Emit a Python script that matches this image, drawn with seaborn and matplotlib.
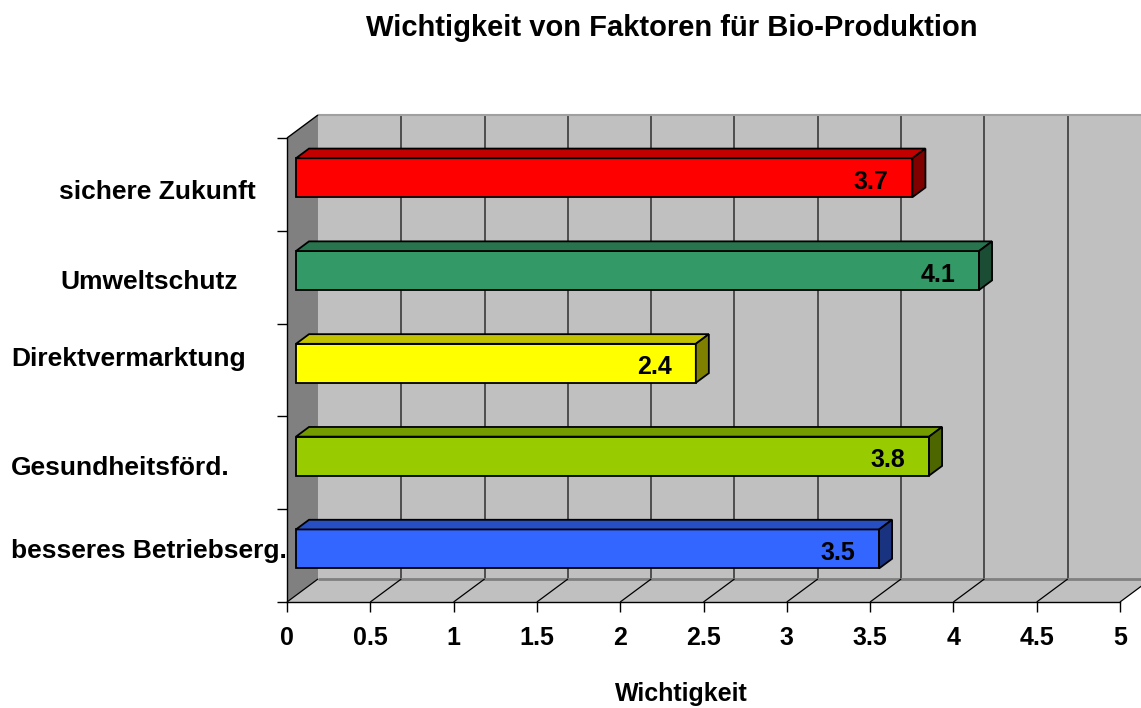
import numpy as np
import matplotlib.pyplot as plt
import matplotlib.colors as mcolors
from matplotlib.patches import Polygon
import seaborn as sns

# data
categories = ["sichere Zukunft", "Umweltschutz", "Direktvermarktung",
              "Gesundheitsförd.", "besseres Betriebserg."]
values = [3.7, 4.1, 2.4, 3.8, 3.5]
bar_colors = ["#FF0000", "#339966", "#FFFF00", "#99CC00", "#3366FF"]
x_ticks = [0, 0.5, 1, 1.5, 2, 2.5, 3, 3.5, 4, 4.5, 5]
x_tick_labels = ["0", "0.5", "1", "1.5", "2", "2.5", "3", "3.5", "4", "4.5", "5"]
title = "Wichtigkeit von Faktoren für Bio-Produktion"
x_label = "Wichtigkeit"

# layout: pixel positions (left x, centre y) of the category labels
label_pos = [(59, 192), (60, 282), (11, 359), (11, 468), (11, 551)]

sns.set_style("white")
plt.rcParams["font.family"] = ["Liberation Sans", "DejaVu Sans"]
plt.rcParams["font.weight"] = "bold"
for key in ["text.color", "axes.labelcolor", "xtick.color", "ytick.color"]:
    plt.rcParams[key] = "black"

W, H = 1141, 708
fig = plt.figure(figsize=(W / 100, H / 100), dpi=100)
ax = fig.add_axes([287 / W, 1 - 602 / H, 833 / W, 464 / H])

# fake 3d depth (full depth in data units)
DX, DY = 0.186, 0.248
BAR_D0, BAR_DEPTH = 0.29, 0.42


def d3(x, y, d):
    return (x + d * DX, y - d * DY)


def poly(pts, fc, z, ec="none", lw=0):
    ax.add_patch(Polygon(pts, closed=True, facecolor=fc, edgecolor=ec,
                         linewidth=lw, zorder=z, clip_on=False))


def line(p, q, color, lw, z):
    ax.plot([p[0], q[0]], [p[1], q[1]], color=color, lw=lw, zorder=z,
            clip_on=False, solid_capstyle="butt")


y0, y1 = -0.5, len(categories) - 0.5
xmax = x_ticks[-1]

# bars first, so the container only holds them
sns.barplot(x=values, y=categories, hue=categories, palette=bar_colors,
            orient="h", width=0.42, legend=False, saturation=1,
            edgecolor="black", linewidth=1.3, ax=ax)
bars = [p for c in ax.containers for p in c]

# walls
poly([d3(0, y0, 1), d3(xmax, y0, 1), d3(xmax, y1, 1), d3(0, y1, 1)], "#C0C0C0", 0.1)
poly([d3(0, y0, 0), d3(0, y0, 1), d3(0, y1, 1), d3(0, y1, 0)], "#808080", 0.2)
for xt in x_ticks[1:]:
    line(d3(xt, y0, 1), d3(xt, y1, 1), "#3A3A3A", 1.2, 0.3)
line(d3(0, y0, 1), d3(xmax, y0, 1), "#A0A0A0", 1.5, 0.3)
line(d3(0, y0, 0), d3(0, y0, 1), "#000000", 1.0, 0.4)

# floor
poly([d3(0, y1, 0), d3(xmax, y1, 0), d3(xmax, y1, 1), d3(0, y1, 1)], "#C0C0C0", 0.5)
line(d3(0, y1, 1), d3(xmax, y1, 1), "#808080", 2.0, 0.6)
for xt in x_ticks:
    line(d3(xt, y1, 0), d3(xt, y1, 1), "#000000", 0.9, 0.6)

ddx, ddy = BAR_DEPTH * DX, BAR_DEPTH * DY
for patch, col, val in zip(bars, bar_colors, values):
    patch.set_x(patch.get_x() + BAR_D0 * DX)
    patch.set_y(patch.get_y() - BAR_D0 * DY)
    patch.set_zorder(2)
    bx, by = patch.get_x(), patch.get_y()
    bw, bh = patch.get_width(), patch.get_height()
    rgb = np.array(mcolors.to_rgb(col))
    poly([(bx, by), (bx + bw, by), (bx + bw + ddx, by - ddy), (bx + ddx, by - ddy)],
         rgb * 0.76, 2, ec="black", lw=1.3)
    poly([(bx + bw, by), (bx + bw, by + bh), (bx + bw + ddx, by + bh - ddy),
          (bx + bw + ddx, by - ddy)], rgb * 0.5, 2, ec="black", lw=1.3)
    ax.annotate(f"{val:.1f}", xy=(bx + bw, by + bh / 2), xytext=(-17, -3),
                textcoords="offset points", ha="right", va="center",
                fontsize=18, fontweight="bold", color="black", zorder=3)

ax.set_xlim(0, xmax)
ax.set_ylim(y1, y0)
ax.patch.set_visible(False)
for side in ["top", "right"]:
    ax.spines[side].set_visible(False)
for side in ["left", "bottom"]:
    ax.spines[side].set_color("black")
    ax.spines[side].set_linewidth(1.0)
    ax.spines[side].set_zorder(5)

ax.set_yticks(np.arange(y0, y1 + 0.01, 1.0))
ax.set_yticklabels([])
ax.set_xticks(x_ticks)
ax.set_xticklabels(x_tick_labels, fontsize=18, fontweight="bold")
ax.tick_params(axis="both", direction="out", length=7.2, width=1.0,
               color="black", labelcolor="black", left=True, bottom=True)
ax.tick_params(axis="x", pad=10)
ax.set_xlabel("")
ax.set_ylabel("")

for (lx, ly), name in zip(label_pos, categories):
    fig.text(lx / W, 1 - ly / H, name, ha="left", va="center",
             fontsize=19, fontweight="bold", color="black")

fig.text(672 / W, 1 - 28 / H, title, ha="center", va="center",
         fontsize=21, fontweight="bold", color="black")
fig.text(681 / W, 1 - 694 / H, x_label, ha="center", va="center",
         fontsize=18, fontweight="bold", color="black")

fig.savefig("out.png", dpi=100)
